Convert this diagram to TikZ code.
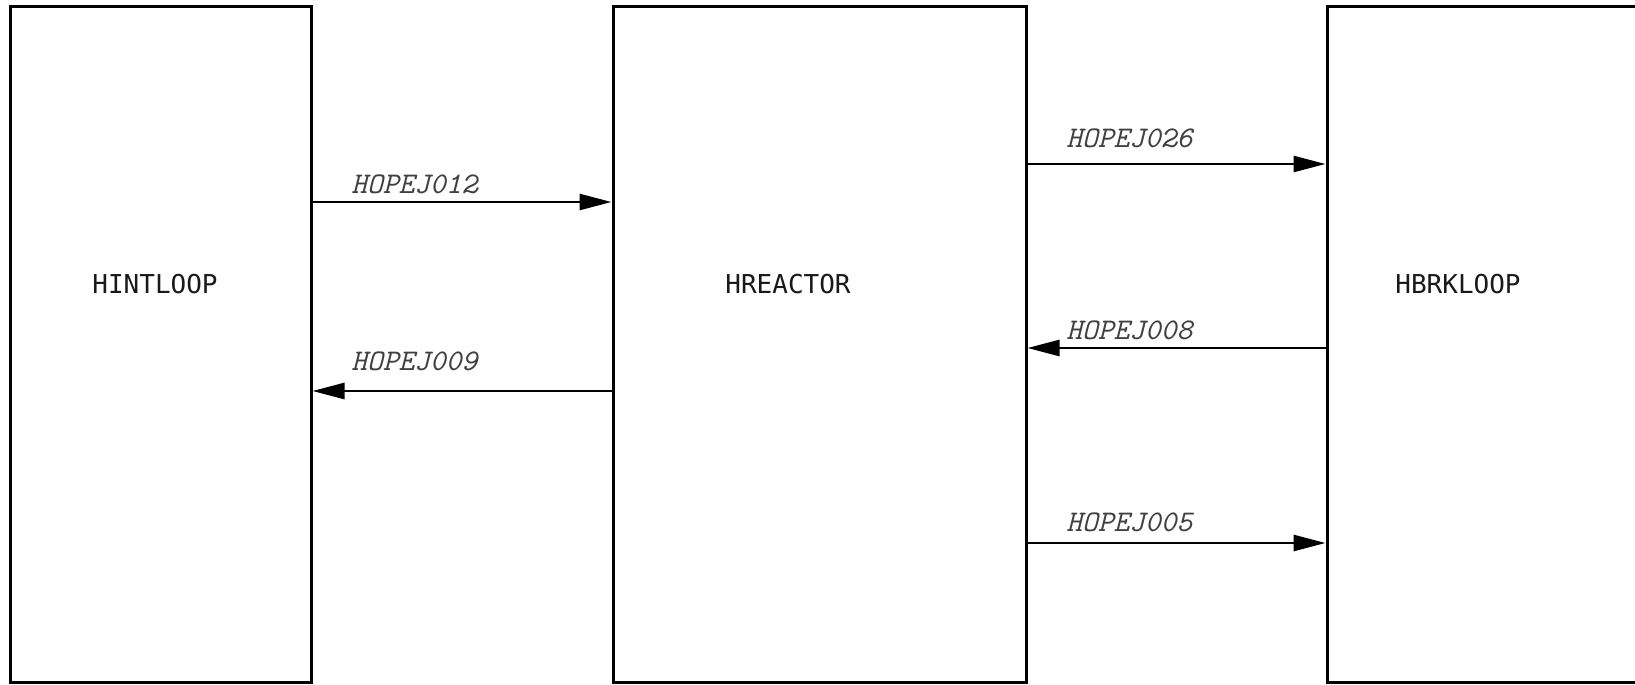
\documentclass[tikz,border=0pt]{standalone}
\usepackage{fontspec}
\newfontfamily\boxfont{DejaVu Sans Mono}
\usetikzlibrary{arrows.meta, positioning}
\tikzstyle{box} = [
    rectangle, 
    minimum height=338pt, 
    inner sep=0pt, 
    draw=black, 
    line width=1.5pt
]
\tikzstyle{boxlabel} = [
    anchor=base west, 
    inner sep=0pt, 
    font=\boxfont\fontsize{13}{15}\selectfont, 
    color=black!90
]
\tikzstyle{arrow} = [
    line width=1.4pt, 
    -{Triangle[length=16pt, width=8pt]}
    %-stealth
]
\tikzstyle{flowlabel} = [
    anchor=base west, 
    inner sep=0pt, 
    font=\ttfamily\itshape\fontsize{15}{18}\selectfont, 
    color=black!75
]

\begin{document}
\begin{tikzpicture}[x=0.5pt, y=-0.5pt]
    \useasboundingbox (0,0) rectangle (1635,685);
    \clip (0,0) rectangle (1635,685);
    
    % Nodes
    \node (hintloop) [box, minimum width=150.5pt] at (160.5,344) {};
    \node (hreactor) [box, minimum width=206.5pt] at (819.5,344) {};
    \node (hbrkloop) [box, minimum width=161.5pt] at (1488.5,344) {};
    \node (hintloopname) [boxlabel] at (92,293) {HINTLOOP};
    \node (hreactorname) [boxlabel] at (725,293) {HREACTOR};
    \node (hbrkloopname) [boxlabel] at (1395,293) {HBRKLOOP};
    
    % Edges with text
    \draw [arrow] (hintloop.east |- 0,202) -- (hreactor.west |- 0,202) node[flowlabel] (j012) at (350,193) {HOPEJ012};
    \draw [arrow] (hreactor.west |- 0,391) -- (hintloop.east |- 0,391) node[flowlabel] (j009) at (350,370) {HOPEJ009};
    \draw [arrow] (hreactor.east |- 0,164) -- (hbrkloop.west |- 0,164) node[flowlabel] (j026) at (1065,147) {HOPEJ026};
    \draw [arrow] (hbrkloop.west |- 0,348) -- (hreactor.east |- 0,348) node[flowlabel] (j008) at (1065,339) {HOPEJ008};
    \draw [arrow] (hreactor.east |- 0,543) -- (hbrkloop.west |- 0,543) node[flowlabel] (j005) at (1065,531) {HOPEJ005};
    
\end{tikzpicture}
\end{document}
